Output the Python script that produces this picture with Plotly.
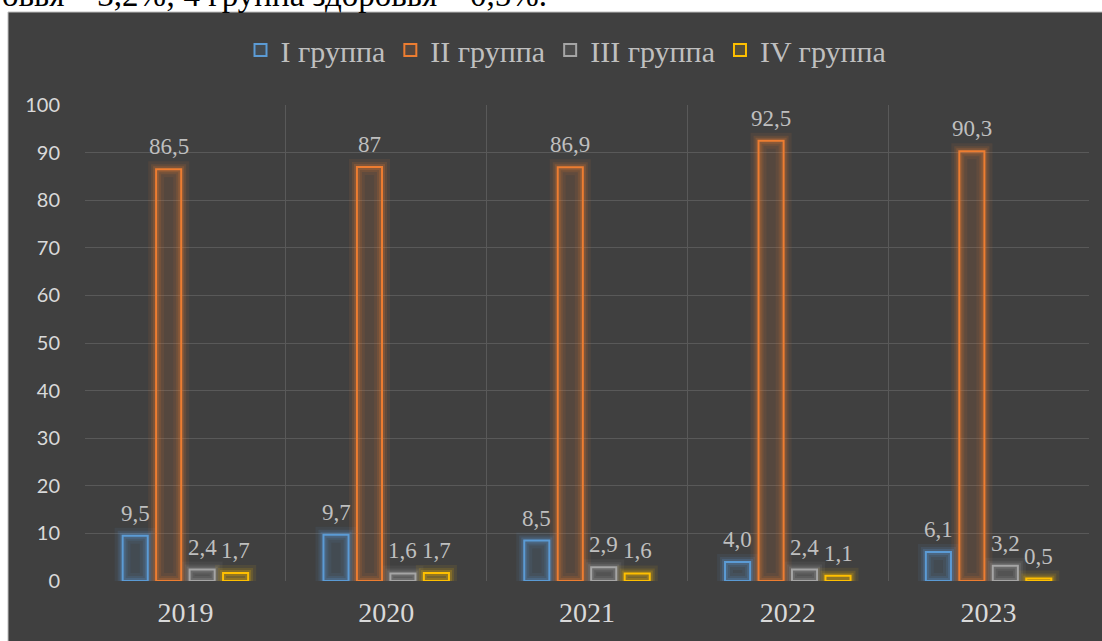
import plotly.graph_objects as go

years = ["2019", "2020", "2021", "2022", "2023"]
series_names = ["I группа", "II группа", "III группа", "IV группа"]
group1 = [9.5, 9.7, 8.5, 4.0, 6.1]
group2 = [86.5, 87, 86.9, 92.5, 90.3]
group3 = [2.4, 1.6, 2.9, 2.4, 3.2]
group4 = [1.7, 1.7, 1.6, 1.1, 0.5]
labels1 = ["9,5", "9,7", "8,5", "4,0", "6,1"]
labels2 = ["86,5", "87", "86,9", "92,5", "90,3"]
labels3 = ["2,4", "1,6", "2,9", "2,4", "3,2"]
labels4 = ["1,7", "1,7", "1,6", "1,1", "0,5"]
y_ticks = list(range(0, 101, 10))
top_text = "овья – 3,2%; 4 группа здоровья – 0,5%."

values = [group1, group2, group3, group4]
labels = [labels1, labels2, labels3, labels4]
colors = [(91, 155, 213), (237, 125, 49), (165, 165, 165), (255, 192, 0)]

W, H = 1102, 641
L, R, T, B = 85, 13, 105, 60
pw, ph = W - L - R, H - T - B

bar_w = 0.125
centers = [-0.25, -0.0833, 0.0833, 0.25]

fig = go.Figure()

# glow layers
for j in range(4):
    r, g, b = colors[j]
    for lw, a in [(16, 0.08), (10, 0.13), (6, 0.2)]:
        fig.add_trace(go.Bar(
            x=years, y=values[j], offset=centers[j] - bar_w / 2, width=bar_w,
            marker=dict(color="rgba(0,0,0,0)", line=dict(color=f"rgba({r},{g},{b},{a})", width=lw)),
            showlegend=False, hoverinfo="skip"))

for j in range(4):
    r, g, b = colors[j]
    fig.add_trace(go.Bar(
        x=years, y=values[j], name=series_names[j],
        offset=centers[j] - bar_w / 2, width=bar_w,
        marker=dict(color=f"rgba({r},{g},{b},0.12)", line=dict(color=f"rgb({r},{g},{b})", width=2))))

annotations = []
for j in range(4):
    for i, v in enumerate(values[j]):
        annotations.append(dict(
            x=i + centers[j], y=v, xref="x", yref="y", text=labels[j][i],
            showarrow=False, yanchor="bottom", yshift=8,
            font=dict(family="Liberation Serif", size=23, color="#bfbfbf")))

annotations.append(dict(
    x=(0 - L) / pw, y=(H - B - 15.5) / ph, xref="paper", yref="paper",
    xanchor="left", yanchor="bottom", text=top_text, showarrow=False,
    font=dict(family="Liberation Serif", size=33, color="#000000")))

shapes = [dict(
    type="rect", xref="paper", yref="paper", layer="below",
    x0=(8 - L) / pw, x1=(W + 10 - L) / pw,
    y0=(H - B - (H + 10)) / ph, y1=(H - B - 12) / ph,
    fillcolor="#404040", line=dict(color="#bfbfbf", width=1))]

fig.update_layout(
    width=W, height=H,
    margin=dict(l=L, r=R, t=T, b=B),
    paper_bgcolor="#ffffff", plot_bgcolor="rgba(0,0,0,0)",
    barmode="overlay",
    showlegend=True,
    legend=dict(orientation="h", x=(566 - L) / pw, xanchor="center",
                y=(H - B - 50) / ph, yanchor="middle",
                font=dict(family="Liberation Serif", size=30, color="#bfbfbf"),
                itemwidth=30, bgcolor="rgba(0,0,0,0)"),
    annotations=annotations,
    shapes=shapes,
)
fig.update_xaxes(type="category", tickson="boundaries", showgrid=True,
                 gridcolor="#595959", gridwidth=1, ticks="", showline=False,
                 zeroline=False, range=[-0.5, 4.5],
                 tickfont=dict(family="Liberation Serif", size=28, color="#d9d9d9"),
                 ticklabelstandoff=12)
fig.update_yaxes(range=[0, 100], tickvals=y_ticks, showgrid=True,
                 gridcolor="#595959", gridwidth=1, zeroline=False, showline=False,
                 tickfont=dict(family="Lato", size=20, color="#d9d9d9"),
                 ticks="outside", ticklen=20, tickcolor="rgba(0,0,0,0)")

fig.write_html("out.html", config={"displayModeBar": False},
               post_script="document.body.style.margin='0';")
